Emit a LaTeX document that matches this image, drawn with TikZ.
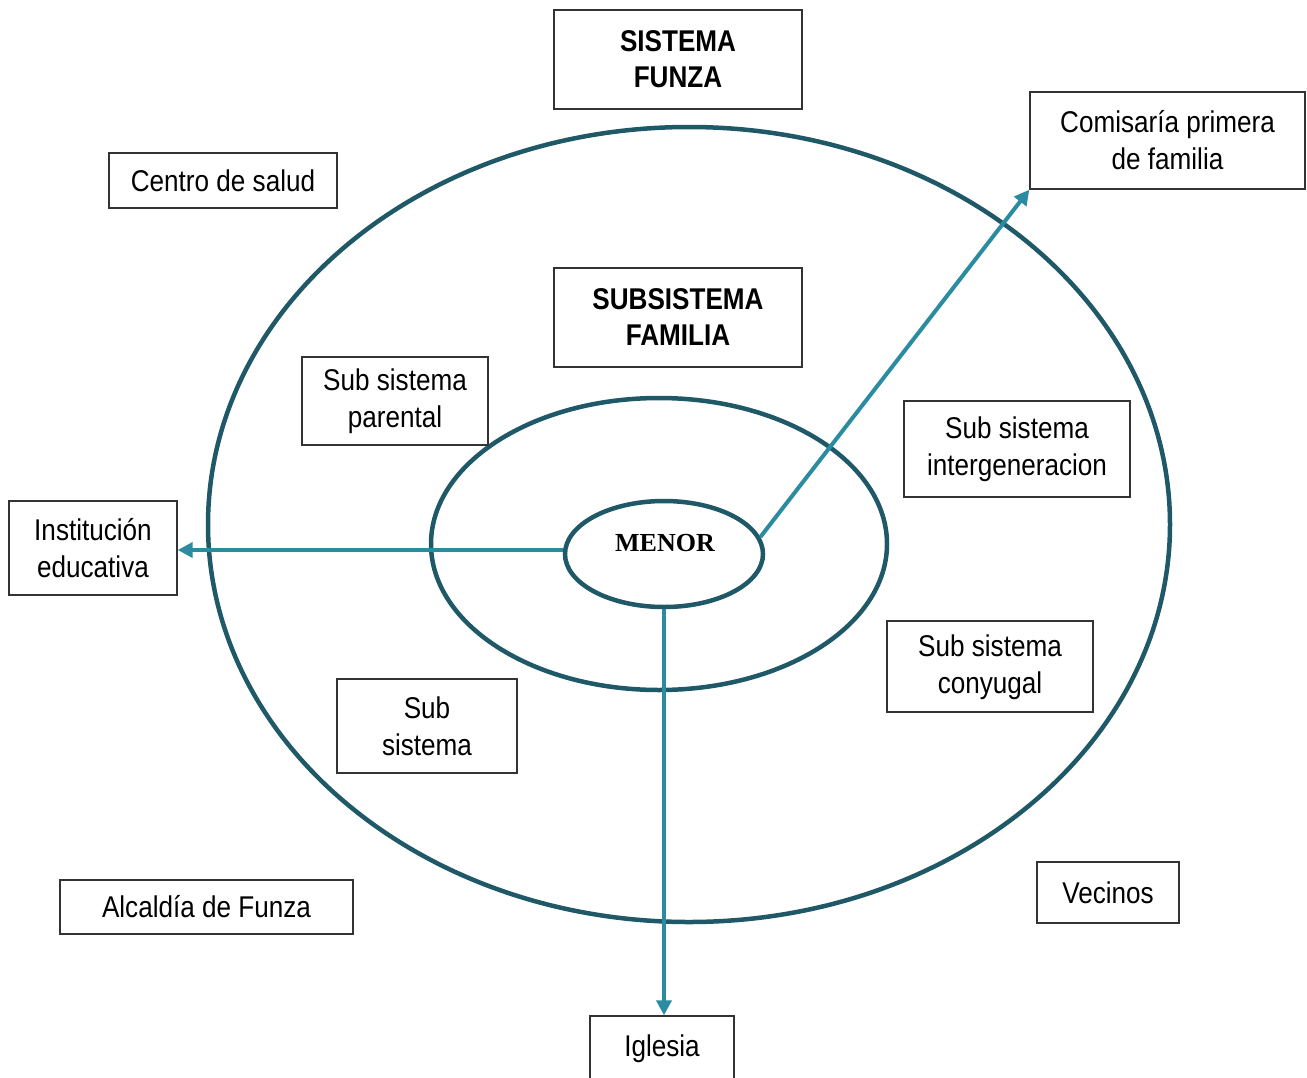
\documentclass[tikz,border=0pt]{standalone}
\usepackage{fontspec}
\setmainfont{Liberation Sans}[FakeStretch=0.87]
\newfontfamily\menorfont{Liberation Serif}
\usetikzlibrary{arrows.meta,shapes.geometric}
\definecolor{ringcol}{HTML}{1F5866}
\definecolor{arrowcol}{HTML}{2A8BA1}
\definecolor{boxline}{HTML}{333333}
\tikzset{
  ring/.style={draw=ringcol, line width=4.5pt, ellipse, inner sep=0pt},
  labelbox/.style={draw=boxline, line width=1.4pt, fill=white, inner sep=0pt, align=center,
    font=\fontsize{30}{37}\selectfont},
  boldbox/.style={labelbox, font=\fontsize{30}{36}\selectfont\bfseries},
  link/.style={draw=arrowcol, line width=4pt, -{Triangle[length=15pt,width=15pt]}}
}
\begin{document}
\begin{tikzpicture}[x=1pt,y=-1pt]
\useasboundingbox (0,0) rectangle (1307,1077);
\node[ring, minimum width=962pt, minimum height=795pt] (outer) at (689,524.5) {};
\node[ring, minimum width=456pt, minimum height=292pt] (middle) at (659,544) {};
\node[ring, minimum width=198pt, minimum height=106pt, fill=white] (menor) at (664,554) {};
\node[font=\menorfont\fontsize{26}{30}\selectfont\bfseries] (menortext) at (665,543) {MENOR};

\node[labelbox, minimum width=168pt, minimum height=94pt] (inst) at (93,548) {Institución\\educativa};
\node[labelbox, minimum width=275pt, minimum height=97pt] (comis) at (1167.5,140.5) {Comisaría primera\\de familia};
\node[labelbox, minimum width=144pt, minimum height=66pt] (igl) at (662,1049) {Iglesia};

\draw[link] (menor.west |- 0,550) -- (inst.east |- 0,550);
\draw[link] (menor.south) -- (menor.south |- igl.north);
\draw[link] (menor.10) -- (comis.south west);

\node[boldbox, minimum width=248pt, minimum height=99pt] (sistema) at (678,59.5) {SISTEMA\\FUNZA};
\node[labelbox, minimum width=228pt, minimum height=55pt] (salud) at (223,180.5) {Centro de salud};
\node[boldbox, minimum width=248pt, minimum height=99pt] (subfam) at (678,317.5) {SUBSISTEMA\\FAMILIA};
\node[labelbox, minimum width=186pt, minimum height=88pt, text depth=6pt] (parental) at (395,401) {Sub sistema\\parental};
\node[labelbox, minimum width=226pt, minimum height=96pt] (interg) at (1017,449) {Sub sistema\\intergeneracion};
\node[labelbox, minimum width=206pt, minimum height=91pt, text depth=5pt] (conyu) at (990,666.5) {Sub sistema\\conyugal};
\node[labelbox, minimum width=180pt, minimum height=94pt] (subs) at (427,726) {Sub\\sistema};
\node[labelbox, minimum width=293pt, minimum height=54pt] (alcal) at (206.5,907) {Alcaldía de Funza};
\node[labelbox, minimum width=142pt, minimum height=61pt] (vecinos) at (1108,892.5) {Vecinos};
\end{tikzpicture}
\end{document}
